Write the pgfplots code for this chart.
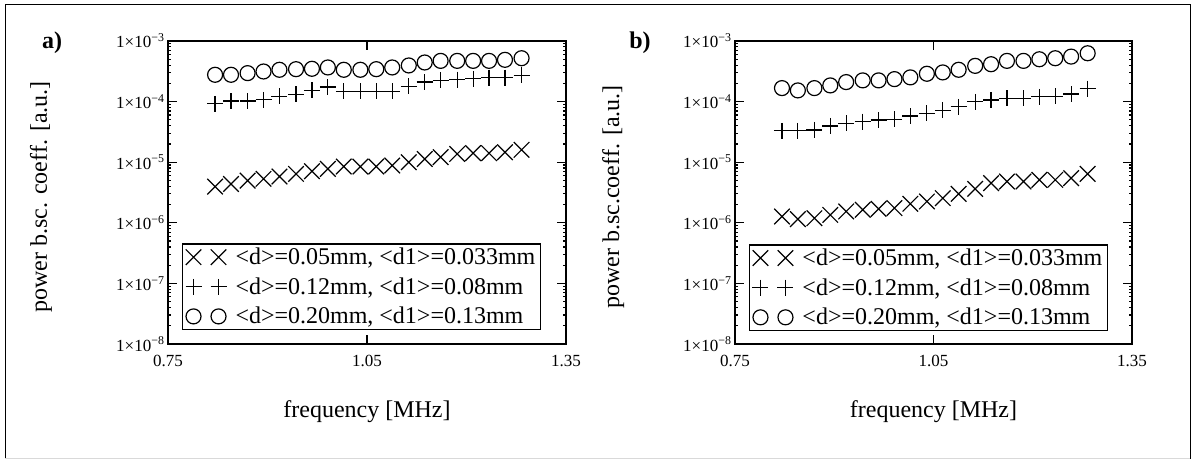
\documentclass[border=0pt]{standalone}
\usepackage{fontspec}
\setmainfont{Liberation Serif}
\usepackage{pgfplots}
\usepackage{pgfplotstable}
\pgfplotsset{compat=1.18}

% panel a) columns: frequency, crosses, pluses, circles
\pgfplotstableread{
f     cx       cp       co
0.821 3.96e-6  9.2e-5   2.77e-4
0.845 4.38e-6  1.02e-4  2.77e-4
0.870 4.97e-6  1.02e-4  2.95e-4
0.894 5.31e-6  1.07e-4  3.14e-4
0.918 5.80e-6  1.22e-4  3.35e-4
0.943 6.41e-6  1.31e-4  3.43e-4
0.967 7.10e-6  1.53e-4  3.48e-4
0.991 7.76e-6  1.74e-4  3.66e-4
1.015 8.48e-6  1.49e-4  3.35e-4
1.040 8.48e-6  1.49e-4  3.35e-4
1.064 8.48e-6  1.49e-4  3.43e-4
1.088 8.81e-6  1.49e-4  3.66e-4
1.113 1.00e-5  1.78e-4  3.95e-4
1.137 1.13e-5  2.10e-4  4.42e-4
1.161 1.21e-5  2.24e-4  4.70e-4
1.186 1.37e-5  2.30e-4  4.70e-4
1.210 1.41e-5  2.38e-4  4.70e-4
1.234 1.41e-5  2.48e-4  4.70e-4
1.258 1.46e-5  2.48e-4  4.89e-4
1.283 1.60e-5  2.71e-4  5.20e-4
}\tabA

% panel b)
\pgfplotstableread{
f     cx       cp       co
0.821 1.27e-6  3.3e-5   1.67e-4
0.845 1.15e-6  3.3e-5   1.53e-4
0.870 1.19e-6  3.4e-5   1.67e-4
0.894 1.35e-6  3.96e-5  1.85e-4
0.918 1.54e-6  4.38e-5  2.10e-4
0.943 1.64e-6  4.66e-5  2.24e-4
0.967 1.70e-6  4.96e-5  2.24e-4
0.991 1.75e-6  5.09e-5  2.35e-4
1.015 2.06e-6  5.78e-5  2.51e-4
1.040 2.25e-6  6.39e-5  2.88e-4
1.064 2.55e-6  7.24e-5  3.03e-4
1.088 3.01e-6  8.22e-5  3.35e-4
1.113 3.63e-6  9.93e-5  3.89e-4
1.137 4.51e-6  1.06e-4  4.14e-4
1.161 4.80e-6  1.13e-4  4.70e-4
1.186 4.80e-6  1.13e-4  4.70e-4
1.210 5.11e-6  1.20e-4  5.00e-4
1.234 5.11e-6  1.23e-4  5.20e-4
1.258 5.45e-6  1.33e-4  5.53e-4
1.283 6.42e-6  1.64e-4  6.28e-4
}\tabB

\newcommand{\bigtxt}{\fontsize{24bp}{29bp}\selectfont}
\newcommand{\tk}[1]{1×10\textsuperscript{−#1}}

\begin{document}
\begin{tikzpicture}
\path[use as bounding box] (0,0) rectangle (1192bp,461bp);
\draw[line width=1bp] (5bp,2bp) -- (5bp,456bp) -- (1190bp,456bp) -- (1190bp,2bp);
\draw[black!15, line width=1bp] (5bp,2bp) -- (1190bp,2bp);

\begin{semilogyaxis}[
  scale only axis, width=398bp, height=303bp,
  at={(168bp,117bp)}, anchor=south west,
  xmin=0.75, xmax=1.35, ymin=1e-8, ymax=1e-3,
  xtick={0.75,1.05,1.35}, xticklabels={0.75,1.05,1.35},
  ytick={1e-8,1e-7,1e-6,1e-5,1e-4,1e-3},
  yticklabels={\tk8,\tk7,\tk6,\tk5,\tk4,\tk3},
  tick align=inside, major tick length=9bp,
  tick style={black, line width=1.2bp},
  minor tick num=0,
  axis line style={line width=1.8bp},
  ticklabel style={font=\fontsize{17bp}{20bp}\selectfont},
  xticklabel style={yshift=-8bp},
  label style={font=\bigtxt},
  xlabel={frequency [MHz]},
  xlabel style={at={(rel axis cs:0.5,-0.224)}, anchor=center},
  ylabel={power b.sc. coeff. [a.u.]},
  ylabel style={at={(rel axis cs:-0.319,0.485)}, anchor=center},
  legend style={at={(rel axis cs:0.035,0.046)}, anchor=south west,
    font=\bigtxt, draw=black, line width=1.2bp, row sep=7.5bp},
  legend cell align=left,
  clip=false,
]
\addplot[only marks, black, line width=1.2bp, mark size=11bp, mark=x,
  legend image code/.code={\draw plot[only marks] coordinates {(0bp,0bp) (25bp,0bp)};
    \path[draw=none, fill=none] (0bp,0bp) -- (40bp,0bp);}]
  table[x=f, y=cx] {\tabA};
\addlegendentry{<d>=0.05mm, <d1>=0.033mm}
\addplot[only marks, black, line width=1.2bp, mark size=8bp, mark=+,
  legend image code/.code={\draw plot[only marks] coordinates {(0bp,0bp) (25bp,0bp)};
    \path[draw=none, fill=none] (0bp,0bp) -- (40bp,0bp);}]
  table[x=f, y=cp] {\tabA};
\addlegendentry{<d>=0.12mm, <d1>=0.08mm}
\addplot[only marks, black, line width=1.2bp, mark size=7.5bp, mark=o,
  legend image code/.code={\draw plot[only marks] coordinates {(0bp,0bp) (25bp,0bp)};
    \path[draw=none, fill=none] (0bp,0bp) -- (40bp,0bp);}]
  table[x=f, y=co] {\tabA};
\addlegendentry{<d>=0.20mm, <d1>=0.13mm}
\end{semilogyaxis}
\node[font=\bfseries\bigtxt] at (52bp,418bp) {a)};

\begin{semilogyaxis}[
  scale only axis, width=397bp, height=303bp,
  at={(735bp,117bp)}, anchor=south west,
  xmin=0.75, xmax=1.35, ymin=1e-8, ymax=1e-3,
  xtick={0.75,1.05,1.35}, xticklabels={0.75,1.05,1.35},
  ytick={1e-8,1e-7,1e-6,1e-5,1e-4,1e-3},
  yticklabels={\tk8,\tk7,\tk6,\tk5,\tk4,\tk3},
  tick align=inside, major tick length=9bp,
  tick style={black, line width=1.2bp},
  minor tick num=0,
  axis line style={line width=1.8bp},
  ticklabel style={font=\fontsize{17bp}{20bp}\selectfont},
  xticklabel style={yshift=-8bp},
  label style={font=\bigtxt},
  xlabel={frequency [MHz]},
  xlabel style={at={(rel axis cs:0.5,-0.224)}, anchor=center},
  ylabel={power b.sc.coeff. [a.u.]},
  ylabel style={at={(rel axis cs:-0.307,0.485)}, anchor=center},
  legend style={at={(rel axis cs:0.035,0.043)}, anchor=south west,
    font=\bigtxt, draw=black, line width=1.2bp, row sep=7.5bp},
  legend cell align=left,
  clip=false,
]
\addplot[only marks, black, line width=1.2bp, mark size=11bp, mark=x,
  legend image code/.code={\draw plot[only marks] coordinates {(0bp,0bp) (25bp,0bp)};
    \path[draw=none, fill=none] (0bp,0bp) -- (40bp,0bp);}]
  table[x=f, y=cx] {\tabB};
\addlegendentry{<d>=0.05mm, <d1>=0.033mm}
\addplot[only marks, black, line width=1.2bp, mark size=8bp, mark=+,
  legend image code/.code={\draw plot[only marks] coordinates {(0bp,0bp) (25bp,0bp)};
    \path[draw=none, fill=none] (0bp,0bp) -- (40bp,0bp);}]
  table[x=f, y=cp] {\tabB};
\addlegendentry{<d>=0.12mm, <d1>=0.08mm}
\addplot[only marks, black, line width=1.2bp, mark size=7.5bp, mark=o,
  legend image code/.code={\draw plot[only marks] coordinates {(0bp,0bp) (25bp,0bp)};
    \path[draw=none, fill=none] (0bp,0bp) -- (40bp,0bp);}]
  table[x=f, y=co] {\tabB};
\addlegendentry{<d>=0.20mm, <d1>=0.13mm}
\end{semilogyaxis}
\node[font=\bfseries\bigtxt] at (640bp,418bp) {b)};
\end{tikzpicture}
\end{document}
